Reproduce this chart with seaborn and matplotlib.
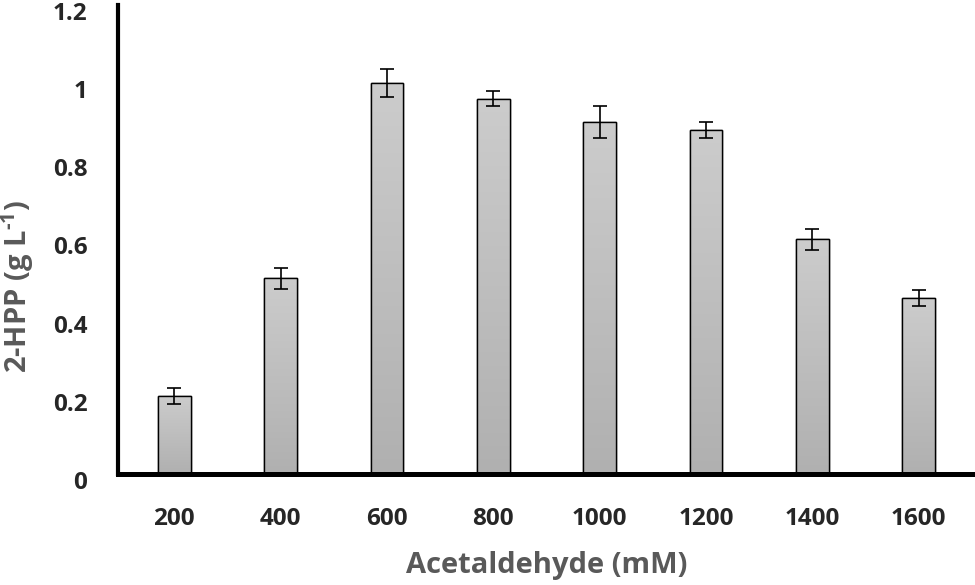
import numpy as np
import matplotlib
matplotlib.use("Agg")
import matplotlib.pyplot as plt
import matplotlib.transforms as mtransforms
import seaborn as sns
import pandas as pd

# data
conc = ["200", "400", "600", "800", "1000", "1200", "1400", "1600"]
hpp = [0.20, 0.50, 1.00, 0.96, 0.90, 0.88, 0.60, 0.45]
err = [0.02, 0.027, 0.035, 0.02, 0.04, 0.02, 0.026, 0.02]
yticks = [0, 0.2, 0.4, 0.6, 0.8, 1, 1.2]
ytick_labels = ["0", "0.2", "0.4", "0.6", "0.8", "1", "1.2"]

sns.set_style("white")
plt.rcParams['font.family'] = ['Open Sans', 'DejaVu Sans']
plt.rcParams['mathtext.fontset'] = 'custom'
plt.rcParams['mathtext.rm'] = 'Open Sans:bold'
plt.rcParams['mathtext.bf'] = 'Open Sans:bold'

df = pd.DataFrame({"conc": conc, "hpp": hpp})

fig = plt.figure(figsize=(9.75, 5.85), dpi=100)
ax = fig.add_axes([0.121, 0.19, 0.879, 0.8017])

sns.barplot(data=df, x="conc", y="hpp", color="#c4c4c4", width=0.31,
            edgecolor="black", linewidth=1.0, ax=ax)

# gradient fill inside each bar: light at top, darker at bottom
grad = np.linspace(0.80, 0.69, 256).reshape(-1, 1)
for p in list(ax.patches):
    x0, y0 = p.get_x(), p.get_y()
    w, h = p.get_width(), p.get_height()
    im = ax.imshow(np.dstack([grad] * 3), extent=[x0, x0 + w, y0, y0 + h],
                   aspect="auto", zorder=p.get_zorder() + 0.1, origin="upper")
    im.set_clip_path(p)
    # outline again on top of the gradient
    ax.add_patch(plt.Rectangle((x0, y0), w, h, fill=False, edgecolor="black",
                               linewidth=1.0, zorder=p.get_zorder() + 0.2))

ax.errorbar(np.arange(len(conc)), hpp, yerr=err, fmt="none", ecolor="black",
            elinewidth=1.2, capsize=5, capthick=1.2, zorder=5)

ax.set_xlim(-0.53, 7.53)
ax.set_ylim(0, 1.2)
ax.set_yticks(yticks)
ax.set_yticklabels(ytick_labels)

for s in ["top", "right"]:
    ax.spines[s].set_visible(False)
ax.spines["left"].set_linewidth(3)
ax.spines["bottom"].set_linewidth(3.6)
ax.spines["left"].set_color("black")
ax.spines["bottom"].set_color("black")

ax.tick_params(axis="both", length=0, labelsize=17.5)
ax.tick_params(axis="y", pad=22)
ax.tick_params(axis="x", pad=24)
# excel puts the y labels a little below their ticks
shift = mtransforms.ScaledTranslation(0, -6 / 100, fig.dpi_scale_trans)
for lab in ax.get_yticklabels():
    lab.set_transform(lab.get_transform() + shift)
for lab in ax.get_xticklabels() + ax.get_yticklabels():
    lab.set_fontweight("bold")

ax.set_xlabel("Acetaldehyde (mM)", fontsize=21, fontweight="bold",
              color="#595959")
ax.set_ylabel(r"2-HPP (g L$^{\text{-1}}$)", fontsize=21, fontweight="bold",
              color="#595959")
ax.xaxis.label.set_va("center")
ax.yaxis.label.set_va("center")
ax.xaxis.set_label_coords(0.5, -0.196)
ax.yaxis.set_label_coords(-0.1167, 0.40)

fig.savefig("out.png", dpi=100)
